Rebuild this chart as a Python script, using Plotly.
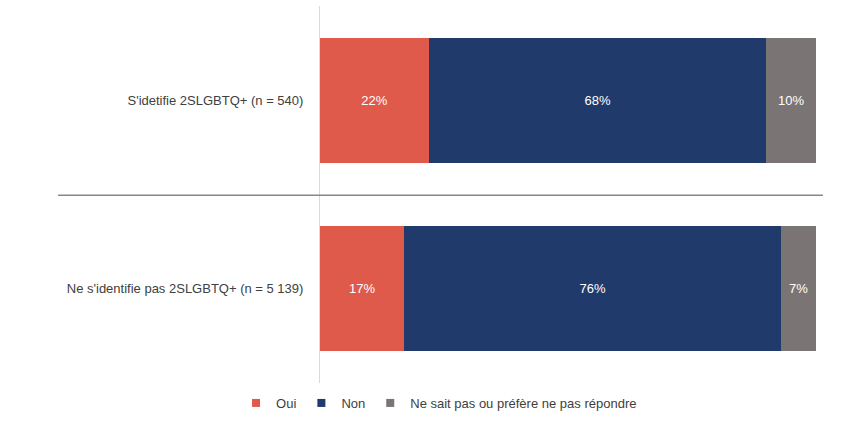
import plotly.graph_objects as go

categories = ["S'idetifie 2SLGBTQ+ (n = 540)", "Ne s'identifie pas 2SLGBTQ+ (n = 5 139)"]
series_names = ["Oui", "Non", "Ne sait pas ou préfère ne pas répondre"]
oui = [22, 17]
non = [68, 76]
nsp = [10, 7]
colors = ["#E05A4B", "#1F3A6B", "#7A7574"]

fig = go.Figure()
for name, vals, col in zip(series_names, [oui, non, nsp], colors):
    fig.add_trace(go.Bar(
        y=categories, x=vals, name=name, orientation="h",
        marker=dict(color=col, line=dict(width=0)),
        text=[f"{v}%" for v in vals], textposition="inside",
        insidetextanchor="middle", textangle=0,
        textfont=dict(color="white", size=13, family="Liberation Sans, Arial"),
        hoverinfo="skip", showlegend=False,
    ))
# legend entries with small square swatches
for name, col in zip(series_names, colors):
    fig.add_trace(go.Scatter(
        x=[None], y=[None], mode="markers", name=name,
        marker=dict(symbol="square", size=8, color=col),
        hoverinfo="skip",
    ))

fig.add_shape(type="line", xref="paper", yref="y", x0=-0.528, x1=1.014,
              y0=0.504, y1=0.504, line=dict(color="#878787", width=1.5))

fig.update_layout(
    width=864, height=421,
    barmode="stack", bargap=0.337,
    plot_bgcolor="white", paper_bgcolor="white",
    margin=dict(l=320, r=48, t=6, b=38, autoexpand=False),
    font=dict(family="Liberation Sans, Arial", size=13, color="#404040"),
    xaxis=dict(range=[0, 100], visible=False, showgrid=False, zeroline=False),
    yaxis=dict(autorange="reversed", showline=True, linecolor="#D9D9D9", linewidth=1,
               ticks="", ticklabelstandoff=13, showgrid=False,
               tickfont=dict(size=13, color="#404040")),
    legend=dict(orientation="h", x=0.24, xanchor="center",
                yref="container", y=18/421, yanchor="middle",
                font=dict(size=13, color="#404040"),
                itemsizing="trace", traceorder="normal", tracegroupgap=0),
)

fig.write_html("out.html")
